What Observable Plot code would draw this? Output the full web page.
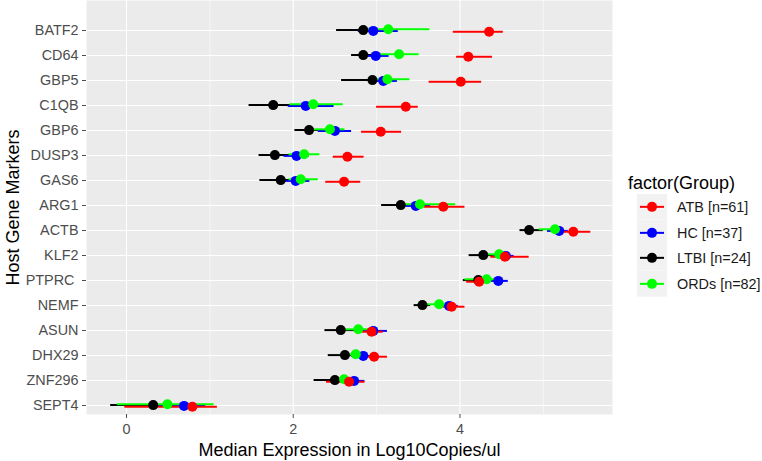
<!DOCTYPE html>
<html>
<head>
<meta charset="utf-8">
<script src="https://cdn.jsdelivr.net/npm/d3@7"></script>
<script src="https://cdn.jsdelivr.net/npm/@observablehq/plot@0.6"></script>
<style>
  html, body { margin: 0; padding: 0; background: #fff; }
  #wrap { position: relative; width: 762px; height: 461px; font-family: "Liberation Sans", Arial, sans-serif; }
  #legend { position: absolute; left: 628px; top: 172px; }
  #legend .title { font-size: 18px; color: #000; height: 22px; line-height: 22px; }
  #legend .row { display: flex; align-items: center; height: 25.7px; }
  #legend .row svg { display: block; }
  #legend .lab { font-size: 14.4px; color: #1a1a1a; margin-left: 9px; }
</style>
</head>
<body>
<div id="wrap"><div id="chart"></div><div id="legend"></div></div>
<script>
// ---- data ----
const genes = ["BATF2","CD64","GBP5","C1QB","GBP6","DUSP3","GAS6","ARG1","ACTB","KLF2","PTPRC ","NEMF","ASUN","DHX29","ZNF296","SEPT4"];
const groups = ["ATB","HC","LTBI","ORDs"];
const groupLabels = ["ATB [n=61]","HC [n=37]","LTBI [n=24]","ORDs [n=82]"];
const groupColors = ["#FF0000","#0000FF","#000000","#00FF00"];

const atbMed = [4.35,4.10,4.01,3.35,3.05,2.65,2.61,3.80,5.36,4.54,4.23,3.90,2.94,2.97,2.67,0.79];
const atbLo  = [3.92,3.96,3.63,3.00,2.82,2.48,2.39,3.57,5.15,4.37,4.08,3.80,2.80,2.85,2.40,-0.02];
const atbHi  = [4.52,4.39,4.26,3.50,3.30,2.85,2.81,4.06,5.57,4.83,4.35,4.06,3.08,3.13,2.86,1.09];

const hcMed = [2.96,2.99,3.08,2.15,2.50,2.04,2.03,3.47,5.19,4.55,4.46,3.87,2.96,2.84,2.73,0.69];
const hcLo  = [2.78,2.85,2.95,1.94,2.30,1.89,1.90,3.35,5.05,4.40,4.30,3.75,2.80,2.70,2.55,0.30];
const hcHi  = [3.26,3.15,3.25,2.49,2.70,2.19,2.20,3.65,5.30,4.65,4.58,3.98,3.13,2.98,2.86,0.95];

const ltbiMed = [2.84,2.84,2.95,1.76,2.19,1.78,1.85,3.29,4.83,4.28,4.22,3.55,2.57,2.62,2.50,0.32];
const ltbiLo  = [2.52,2.70,2.58,1.47,2.02,1.59,1.60,3.06,4.72,4.11,4.04,3.45,2.38,2.42,2.25,-0.19];
const ltbiHi  = [3.00,3.14,3.20,2.05,2.45,2.00,2.17,3.45,5.00,4.40,4.35,3.65,2.75,2.75,2.65,0.55];

const ordsMed = [3.14,3.27,3.13,2.24,2.44,2.13,2.09,3.52,5.14,4.47,4.32,3.75,2.78,2.75,2.61,0.49];
const ordsLo  = [2.79,3.01,3.00,1.96,2.25,1.95,1.95,3.35,4.95,4.30,4.06,3.60,2.60,2.60,2.45,-0.11];
const ordsHi  = [3.64,3.51,3.40,2.60,2.62,2.32,2.30,3.95,5.25,4.60,4.45,3.88,2.95,2.90,2.78,1.05];

const xTicks = [0, 2, 4];
const xMinor = [1, 3, 5];
const xDomain = [-0.48, 5.83];

// ---- build table ----
const series = {
  ATB: [atbMed, atbLo, atbHi],
  HC: [hcMed, hcLo, hcHi],
  LTBI: [ltbiMed, ltbiLo, ltbiHi],
  ORDs: [ordsMed, ordsLo, ordsHi]
};
const rowsFor = g => genes.map((gene, i) => ({gene, group: g, med: series[g][0][i], lo: series[g][1][i], hi: series[g][2][i]}));
const colorOf = g => groupColors[groups.indexOf(g)];
const dodge = {ATB: 1.2, HC: 0.4, LTBI: -0.4, ORDs: -1.2};
const drawOrder = ["LTBI","HC","ORDs","ATB"];

const marks = [
  Plot.frame({fill: "#EBEBEB", stroke: null}),
  Plot.ruleX(xMinor, {stroke: "#fff", strokeWidth: 0.55}),
  Plot.ruleX(xTicks, {stroke: "#fff", strokeWidth: 1.1}),
  Plot.ruleY(genes, {stroke: "#fff", strokeWidth: 1.1}),
];
for (const g of drawOrder) {
  marks.push(Plot.ruleY(rowsFor(g), {y: "gene", x1: "lo", x2: "hi", stroke: colorOf(g), strokeWidth: 2, dy: dodge[g]}));
}
for (const g of drawOrder) {
  marks.push(Plot.dot(rowsFor(g), {y: "gene", x: "med", r: 5, fill: colorOf(g), stroke: null, dy: dodge[g]}));
}
marks.push(
  Plot.axisX({ticks: xTicks, tickSize: 4, tickPadding: 5, fontSize: 14.4, color: "#4D4D4D", label: null, tickFormat: d => String(d)}),
  Plot.axisX({ticks: [], tickSize: 0, label: "Median Expression in Log10Copies/ul", labelAnchor: "center", labelArrow: "none", labelOffset: 41, fontSize: 18, color: "#000"}),
  Plot.axisY({tickSize: 4, tickPadding: 4, fontSize: 14.4, color: "#4D4D4D", label: null, tickFormat: d => d.replace(/ $/, "\u00a0")}),
  Plot.axisY({ticks: [], tickSize: 0, label: "Host Gene Markers", labelAnchor: "center", labelArrow: "none", labelOffset: 80, fontSize: 18, color: "#000"})
);

const chart = Plot.plot({
  width: 762,
  height: 461,
  marginLeft: 86,
  marginRight: 150,
  marginTop: 0,
  marginBottom: 47,
  style: {fontFamily: "'Liberation Sans', Arial, sans-serif", background: "#fff"},
  x: {domain: xDomain},
  y: {type: "point", domain: genes, range: [25, 409], padding: 0},
  marks
});
document.getElementById("chart").appendChild(chart);

// ---- legend ----
const legend = document.getElementById("legend");
const t = document.createElement("div");
t.className = "title"; t.textContent = "factor(Group)";
legend.appendChild(t);
groups.forEach((g, i) => {
  const row = document.createElement("div");
  row.className = "row";
  const ns = "http://www.w3.org/2000/svg";
  const s = document.createElementNS(ns, "svg");
  s.setAttribute("width", 40); s.setAttribute("height", 25.7);
  const rect = document.createElementNS(ns, "rect");
  rect.setAttribute("x", 9); rect.setAttribute("y", 0); rect.setAttribute("width", 30); rect.setAttribute("height", 25.7);
  rect.setAttribute("fill", "#F2F2F2");
  const line = document.createElementNS(ns, "line");
  line.setAttribute("x1", 12); line.setAttribute("x2", 36); line.setAttribute("y1", 12.85); line.setAttribute("y2", 12.85);
  line.setAttribute("stroke", groupColors[i]); line.setAttribute("stroke-width", 2);
  const c = document.createElementNS(ns, "circle");
  c.setAttribute("cx", 24); c.setAttribute("cy", 12.85); c.setAttribute("r", 5); c.setAttribute("fill", groupColors[i]);
  s.appendChild(rect); s.appendChild(line); s.appendChild(c);
  const lab = document.createElement("span");
  lab.className = "lab"; lab.textContent = groupLabels[i];
  row.appendChild(s); row.appendChild(lab);
  legend.appendChild(row);
});
</script>
</body>
</html>
